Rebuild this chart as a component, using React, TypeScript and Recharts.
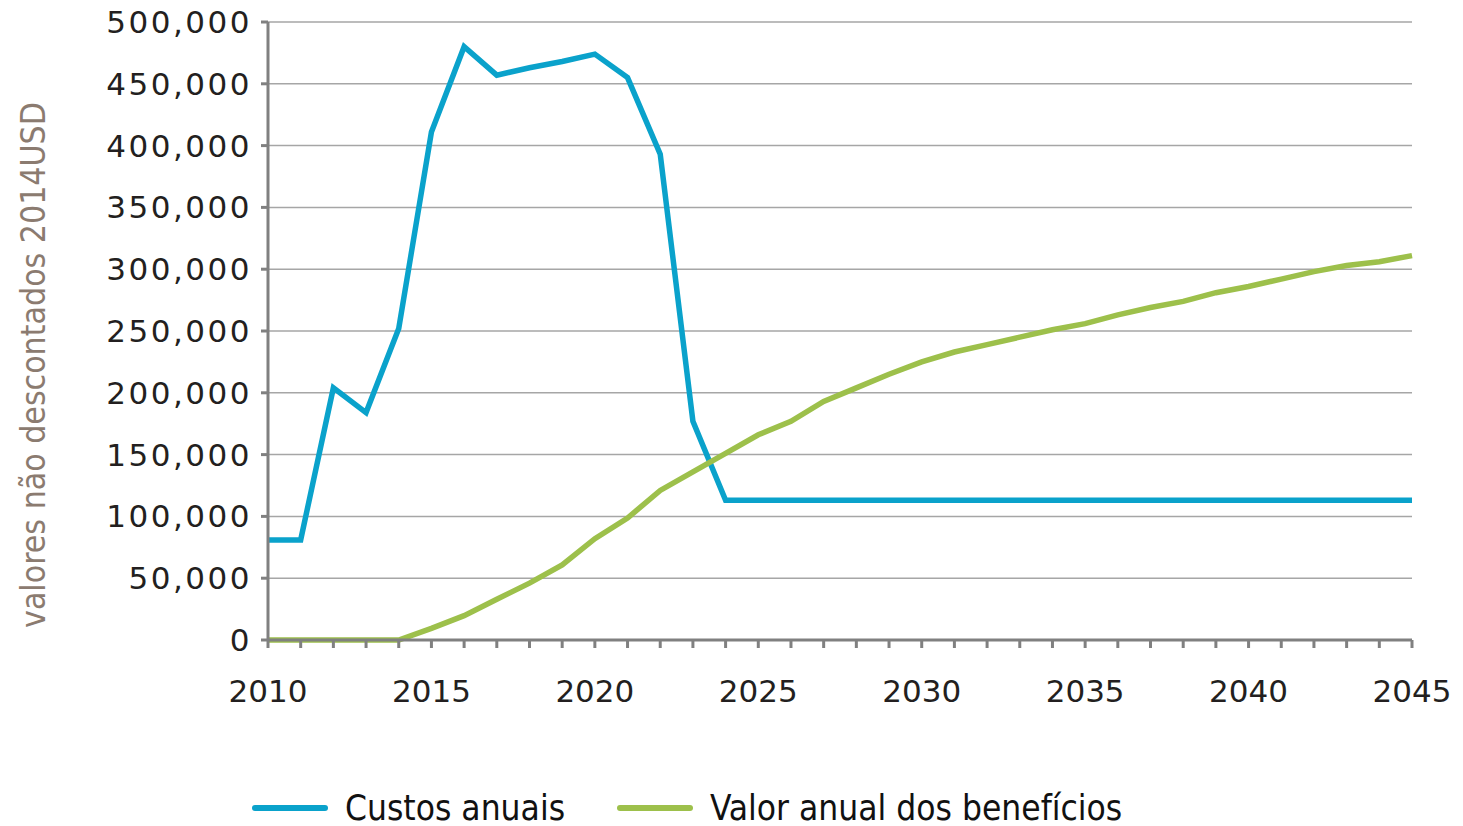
import { CartesianGrid, Label, Legend, Line, LineChart, XAxis, YAxis } from "recharts"

const years = [
  2010, 2011, 2012, 2013, 2014, 2015, 2016, 2017, 2018, 2019, 2020, 2021,
  2022, 2023, 2024, 2025, 2026, 2027, 2028, 2029, 2030, 2031, 2032, 2033,
  2034, 2035, 2036, 2037, 2038, 2039, 2040, 2041, 2042, 2043, 2044, 2045,
]

const custosAnuais = [
  81000, 81000, 204000, 184000, 252000, 411000, 480000, 457000, 463000, 468000, 474000, 455000,
  393000, 177000, 113000, 113000, 113000, 113000, 113000, 113000, 113000, 113000, 113000, 113000,
  113000, 113000, 113000, 113000, 113000, 113000, 113000, 113000, 113000, 113000, 113000, 113000,
]

const valorBeneficios = [
  0, 0, 0, 0, 0, 9400, 19700, 33000, 46000, 60700, 82000, 98700,
  121000, 136000, 151000, 166000, 177000, 193000, 204000, 215000, 225000, 233000, 239000, 245000,
  251000, 256000, 263000, 269000, 274000, 281000, 286000, 292000, 298000, 303000, 306000, 311000,
]

const yTicks = [0, 50000, 100000, 150000, 200000, 250000, 300000, 350000, 400000, 450000, 500000]
const xLabelYears = [2010, 2015, 2020, 2025, 2030, 2035, 2040, 2045]

const seriesNames = { custos: "Custos anuais", beneficios: "Valor anual dos benefícios" }
const yLabel = "valores não descontados 2014USD"

const BLUE = "#0aa2cb"
const GREEN = "#9dc04b"
const AXIS = "#808080"

const data = years.map((year, i) => ({
  year,
  custos: custosAnuais[i],
  beneficios: valorBeneficios[i],
}))

const tickStyle = { fill: "#231f20", fontSize: 31, fontFamily: "DejaVu Sans" }
const condensed = "'DejaVu Sans Condensed', 'Liberation Sans Narrow', sans-serif"

function ChartLegend() {
  const item = (left: number, color: string, text: string) => (
    <div style={{ position: "absolute", left, top: 0, height: 40, display: "flex", alignItems: "center" }}>
      <div style={{ width: 76, height: 6, borderRadius: 3, background: color }} />
      <span style={{ marginLeft: 17, fontFamily: condensed, fontSize: 35, color: "#111" }}>{text}</span>
    </div>
  )
  return (
    <div style={{ position: "relative", width: 1447, height: 40 }}>
      {item(244, BLUE, seriesNames.custos)}
      {item(609, GREEN, seriesNames.beneficios)}
    </div>
  )
}

export default function App() {
  return (
    <div style={{ marginTop: -8 }}>
      <LineChart width={1447} height={828} data={data} margin={{ top: 22, right: 43, left: 0, bottom: 0 }}>
        <CartesianGrid vertical={false} stroke="#a6a6a6" strokeWidth={1.5} />
        <XAxis
          dataKey="year"
          type="number"
          domain={[2010, 2045]}
          ticks={years}
          interval={0}
          tickFormatter={(v: number) => (xLabelYears.includes(v) ? String(v) : "")}
          height={148}
          tickSize={8}
          tickMargin={32}
          tick={tickStyle}
          axisLine={{ stroke: AXIS, strokeWidth: 3 }}
          tickLine={{ stroke: AXIS, strokeWidth: 3 }}
        />
        <YAxis
          width={260}
          domain={[0, 500000]}
          ticks={yTicks}
          interval={0}
          tickFormatter={(v: number) => v.toLocaleString("en-US")}
          tickSize={7}
          tickMargin={9}
          tick={{ ...tickStyle, letterSpacing: 2.5 }}
          axisLine={{ stroke: AXIS, strokeWidth: 3 }}
          tickLine={{ stroke: AXIS, strokeWidth: 3 }}
        >
          <Label
            content={() => (
              <text
                x={25}
                y={365}
                transform="rotate(-90 25 365)"
                textAnchor="middle"
                dominantBaseline="central"
                fill="#8b7b70"
                fontSize={33.5}
                fontFamily={condensed}
              >
                {yLabel}
              </text>
            )}
          />
        </YAxis>
        <Legend verticalAlign="bottom" wrapperStyle={{ left: 0, width: 1447 }} content={() => <ChartLegend />} />
        <Line
          type="linear"
          dataKey="custos"
          name={seriesNames.custos}
          stroke={BLUE}
          strokeWidth={5.5}
          dot={false}
          isAnimationActive={false}
        />
        <Line
          type="linear"
          dataKey="beneficios"
          name={seriesNames.beneficios}
          stroke={GREEN}
          strokeWidth={5.5}
          dot={false}
          isAnimationActive={false}
        />
      </LineChart>
    </div>
  )
}
